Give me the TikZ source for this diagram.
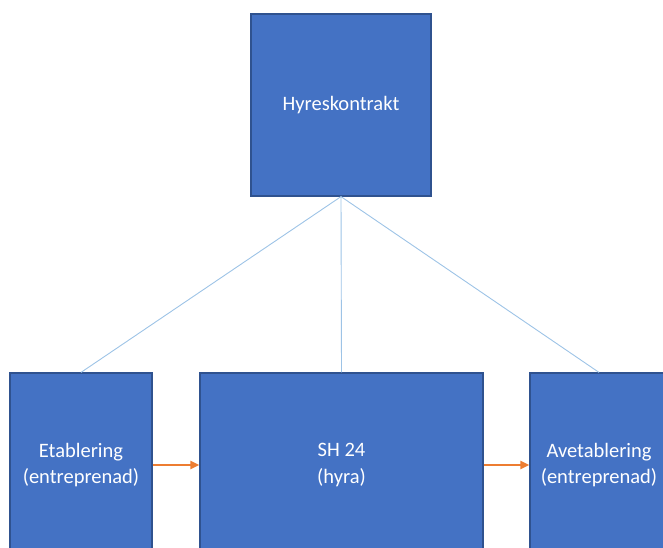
\documentclass[tikz,border=0pt]{standalone}
\usepackage{fontspec}
\setmainfont{Carlito}
\usetikzlibrary{arrows.meta,positioning}
\definecolor{HKFill}{HTML}{4472C4}
\definecolor{HKEdge}{HTML}{2F528F}
\definecolor{HKLink}{HTML}{9DC3E6}
\definecolor{HKOrange}{HTML}{ED7D31}
\tikzset{
  box/.style={draw=HKEdge,line width=1.2pt,fill=HKFill,text=white,align=center,
              inner sep=0pt,font=\fontsize{20.5}{26.5}\selectfont},
  link/.style={HKLink,line width=0.9pt},
  flow/.style={-{Triangle[length=9pt,width=8pt]},HKOrange,line width=2pt},
}
\begin{document}
\begin{tikzpicture}[x=1pt,y=-1pt]
  \useasboundingbox (0,0) rectangle (663,548);
  \clip (0,0) rectangle (663,548);
  \node[box,minimum width=180pt,minimum height=182pt] (kontrakt) at (341,105) {Hyreskontrakt};

  \node[box,minimum width=142pt,minimum height=184pt] (etab) at (81,465)
    {Etablering\\(entreprenad)};
  \node[box,minimum width=283pt,minimum height=184pt] (hyra) at (341.5,465)
    {SH 24\\(hyra)};
  \node[box,minimum width=138pt,minimum height=184pt] (avetab) at (599,465)
    {Avetablering\\(entreprenad)};

  \draw[link] (kontrakt.south) -- (etab.north);
  \draw[link] (kontrakt.south) -- (hyra.north);
  \draw[link] (kontrakt.south) -- (avetab.north);

  \draw[flow] (etab.east) -- (hyra.west);
  \draw[flow] (hyra.east) -- (avetab.west);
\end{tikzpicture}
\end{document}
